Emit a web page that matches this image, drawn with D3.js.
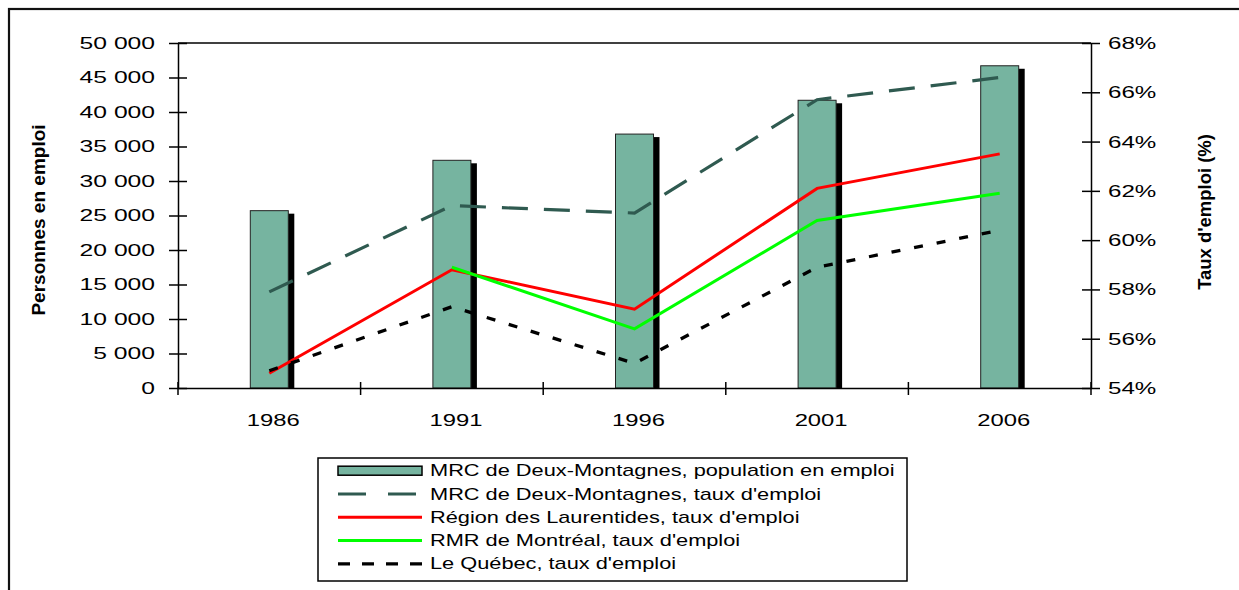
<!DOCTYPE html>
<html>
<head>
<meta charset="utf-8">
<script src="https://cdn.jsdelivr.net/npm/d3@7"></script>
<style>
  body { margin: 0; background: #fff; }
  text { font-family: "Liberation Sans", Arial, sans-serif; fill: #000; }
</style>
</head>
<body>
<svg id="chart" width="1239" height="590"></svg>
<script>
// data
var years = ["1986", "1991", "1996", "2001", "2006"];
var population = [25700, 33000, 36800, 41700, 46700];   // MRC de Deux-Montagnes, population en emploi
var mrcRate = [57.9, 61.4, 61.1, 65.7, 66.6];           // MRC de Deux-Montagnes, taux d'emploi
var laurentidesRate = [54.6, 58.8, 57.2, 62.1, 63.5];   // Région des Laurentides
var montrealRate = [null, 58.9, 56.4, 60.8, 61.9];      // RMR de Montréal
var quebecRate = [54.7, 57.3, 55.0, 58.9, 60.4];        // Le Québec
var popTicks = [0, 5000, 10000, 15000, 20000, 25000, 30000, 35000, 40000, 45000, 50000];
var rateTicks = [54, 56, 58, 60, 62, 64, 66, 68];
var legendLabels = [
  "MRC de Deux-Montagnes, population en emploi",
  "MRC de Deux-Montagnes, taux d'emploi",
  "Région des Laurentides, taux d'emploi",
  "RMR de Montréal, taux d'emploi",
  "Le Québec, taux d'emploi"
];

var barColor = "#76b4a0";
var mrcColor = "#2f5a50";

var svg = d3.select("#chart");

// stretch text horizontally, the original chart was pulled wider
function stretch(sel, k) {
  sel.each(function() {
    var w = this.getComputedTextLength();
    d3.select(this).attr("textLength", w * k).attr("lengthAdjust", "spacingAndGlyphs");
  });
}

// outer frame
svg.append("rect")
  .attr("x", 9).attr("y", 9)
  .attr("width", 1240).attr("height", 620)
  .style("fill", "none").style("stroke", "#111").style("stroke-width", 2.2);

var plotL = 178, plotR = 1091, plotT = 43, plotB = 388;

var x = d3.scaleBand().domain(years).range([plotL, plotR]);
var yPop = d3.scaleLinear().domain([0, 50000]).range([plotB, plotT]);
var yRate = d3.scaleLinear().domain([54, 68]).range([plotB, plotT]);

var fr = d3.formatLocale({decimal: ",", thousands: " ", grouping: [3], currency: ["", " $"]});

// plot area top border
svg.append("line")
  .attr("x1", plotL).attr("x2", plotR).attr("y1", plotT).attr("y2", plotT)
  .style("stroke", "#000").style("stroke-width", 1.5);

// bars, with the black shadow on the right
var barW = 38;
var bars = svg.append("g");
bars.selectAll(".shadow")
  .data(population)
  .enter()
  .append("rect")
    .attr("x", function(d, i) { return x(years[i]) + x.bandwidth() / 2 - barW / 2 + 6; })
    .attr("y", function(d) { return yPop(d) + 3; })
    .attr("width", barW)
    .attr("height", function(d) { return plotB - yPop(d) - 3; })
    .style("fill", "#000");
bars.selectAll(".bar")
  .data(population)
  .enter()
  .append("rect")
    .attr("x", function(d, i) { return x(years[i]) + x.bandwidth() / 2 - barW / 2; })
    .attr("y", function(d) { return yPop(d); })
    .attr("width", barW)
    .attr("height", function(d) { return plotB - yPop(d); })
    .style("fill", barColor)
    .style("stroke", "#222").style("stroke-width", 1);

// left axis
var gLeft = svg.append("g")
  .attr("transform", "translate(" + plotL + ",0)")
  .call(d3.axisLeft(yPop).tickValues(popTicks).tickSizeOuter(0).tickPadding(17).tickFormat(fr.format(",")));
gLeft.selectAll(".tick line").attr("x1", 9).attr("x2", -9);
gLeft.selectAll("text").style("font-size", "17px").call(stretch, 1.45);

// right axis
var gRight = svg.append("g")
  .attr("transform", "translate(" + plotR + ",0)")
  .call(d3.axisRight(yRate).tickValues(rateTicks).tickSizeOuter(0).tickPadding(11).tickFormat(function(d) { return d + "%"; }));
gRight.selectAll(".tick line").attr("x1", -9).attr("x2", 9);
gRight.selectAll("text").style("font-size", "17px").call(stretch, 1.42);

// bottom axis, ticks sit between the years
var gBottom = svg.append("g")
  .attr("transform", "translate(0," + plotB + ")")
  .call(d3.axisBottom(x).tickSize(0).tickSizeOuter(0).tickPadding(26));
gBottom.selectAll("text").style("font-size", "17px").attr("dx", 4).call(stretch, 1.4);
gBottom.selectAll(".sep")
  .data(years.concat(["end"]))
  .enter()
  .append("line")
    .attr("x1", function(d) { return d == "end" ? plotR : x(d); })
    .attr("x2", function(d) { return d == "end" ? plotR : x(d); })
    .attr("y1", -6).attr("y2", 7)
    .style("stroke", "#000").style("stroke-width", 1.5);

svg.selectAll(".domain").style("stroke-width", 1.5);
svg.selectAll(".tick line").style("stroke-width", 1.5);

// rate lines
var cx = function(d, i) { return x(years[i]) + x.bandwidth() / 2; };
var line = d3.line()
  .defined(function(d) { return d != null; })
  .x(cx)
  .y(function(d) { return yRate(d); });

var series = [
  {values: mrcRate, color: mrcColor, width: 3.2, dash: "26,16"},
  {values: laurentidesRate, color: "#ff0000", width: 3, dash: null},
  {values: montrealRate, color: "#00ff00", width: 3, dash: null},
  {values: quebecRate, color: "#000", width: 3.3, dash: "9,14"}
];

svg.selectAll(".rate")
  .data(series)
  .enter()
  .append("path")
    .attr("d", function(d) { return line(d.values); })
    .style("fill", "none")
    .style("stroke", function(d) { return d.color; })
    .style("stroke-width", function(d) { return d.width; })
    .style("stroke-dasharray", function(d) { return d.dash; });

// axis titles
svg.append("text")
  .attr("transform", "translate(38,220) rotate(-90)")
  .attr("text-anchor", "middle")
  .attr("dominant-baseline", "central")
  .style("font-size", "19px").style("font-weight", "bold")
  .text("Personnes en emploi")
  .call(stretch, 1.0);

svg.append("text")
  .attr("transform", "translate(1204,212) rotate(-90)")
  .attr("text-anchor", "middle")
  .attr("dominant-baseline", "central")
  .style("font-size", "19px").style("font-weight", "bold")
  .text("Taux d'emploi (%)")
  .call(stretch, 0.97);

// legend
var legend = svg.append("g");
legend.append("rect")
  .attr("x", 318).attr("y", 458)
  .attr("width", 589).attr("height", 123)
  .style("fill", "#fff").style("stroke", "#000").style("stroke-width", 1.5);

var rowY = function(i) { return 470.7 + i * 23.3; };

legend.append("rect")
  .attr("x", 338).attr("y", rowY(0) - 4.5)
  .attr("width", 84).attr("height", 9)
  .style("fill", barColor).style("stroke", "#000").style("stroke-width", 1.5);

var legendLines = [
  {color: mrcColor, width: 3.2, dash: "28,22"},
  {color: "#ff0000", width: 3, dash: null},
  {color: "#00ff00", width: 3, dash: null},
  {color: "#000", width: 3.3, dash: "12,12"}
];
legend.selectAll(".sym")
  .data(legendLines)
  .enter()
  .append("line")
    .attr("x1", 338).attr("x2", 422)
    .attr("y1", function(d, i) { return rowY(i + 1); })
    .attr("y2", function(d, i) { return rowY(i + 1); })
    .style("stroke", function(d) { return d.color; })
    .style("stroke-width", function(d) { return d.width; })
    .style("stroke-dasharray", function(d) { return d.dash; });

legend.selectAll(".lab")
  .data(legendLabels)
  .enter()
  .append("text")
    .attr("x", 430)
    .attr("y", function(d, i) { return rowY(i); })
    .attr("dominant-baseline", "central")
    .style("font-size", "17px")
    .text(function(d) { return d; })
    .call(stretch, 1.28);
</script>
</body>
</html>
